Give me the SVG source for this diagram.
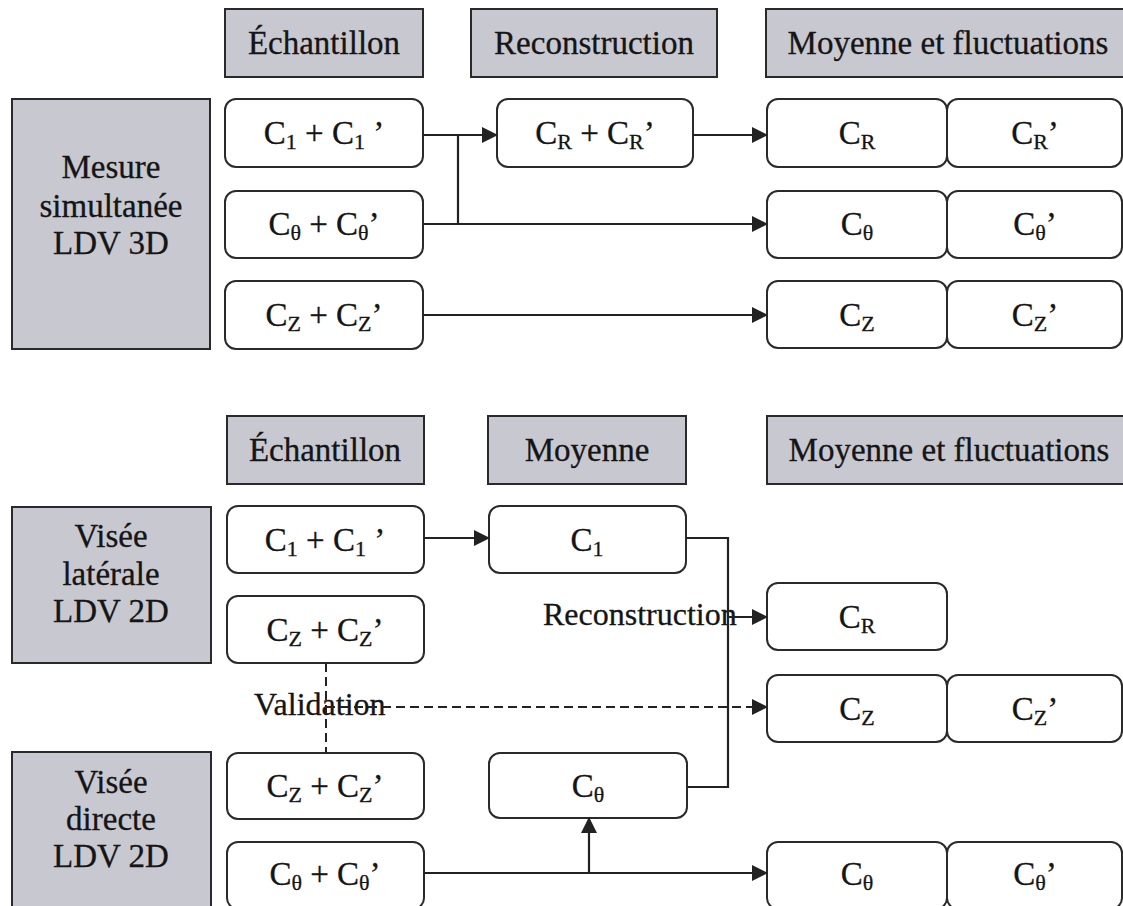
<svg xmlns="http://www.w3.org/2000/svg" width="1123" height="906" viewBox="0 0 1123 906" font-family="'Liberation Serif', 'Times New Roman', 'DejaVu Serif', serif">
<defs>
<marker id="ah" markerWidth="16" markerHeight="16" refX="15" refY="8" orient="auto" markerUnits="userSpaceOnUse">
<path d="M0,0 L16,8 L0,16 Z" fill="#222"/>
</marker>
</defs>
<style>
.hd{fill:#c8c8d0;stroke:#2a2a2a;stroke-width:2}
.bx{fill:#fff;stroke:#2a2a2a;stroke-width:2}
text{font-family:'Liberation Serif','Times New Roman','DejaVu Serif',serif;font-size:33px;fill:#151515;stroke:#151515;stroke-width:0.3;text-anchor:middle}
.s{font-size:22px}
.lb{font-size:32px}
.ln{fill:none;stroke:#222;stroke-width:2.2}
.dl{fill:none;stroke:#222;stroke-width:2;stroke-dasharray:9,5}
.lt{text-anchor:start}
</style>
<rect width="1123" height="906" fill="#fff"/>

<!-- top headers -->
<g id="h-ech1"><rect class="hd" x="225" y="9" width="198" height="68"/><text x="324" y="54">Échantillon</text></g>
<g id="h-rec1"><rect class="hd" x="471" y="9" width="246" height="68"/><text x="594" y="54">Reconstruction</text></g>
<g id="h-mf1"><rect class="hd" x="766" y="9" width="362" height="68"/><text x="948" y="54">Moyenne et fluctuations</text></g>

<g id="mesure"><rect class="hd" x="12" y="99" width="198" height="250"/>
<text x="111" y="178">Mesure</text><text x="111" y="217">simultanée</text><text x="111" y="254">LDV 3D</text></g>

<g id="t-c1"><rect class="bx" x="225" y="99" width="198" height="68" rx="11"/>
<text x="324" y="144">C<tspan class="s" dy="5">1</tspan><tspan dy="-5"> + C</tspan><tspan class="s" dy="5">1</tspan><tspan dy="-5"> ’</tspan></text></g>
<g id="t-ct"><rect class="bx" x="225" y="191" width="198" height="67" rx="11"/>
<text x="324" y="235">C<tspan class="s" dy="5">θ</tspan><tspan dy="-5"> + C</tspan><tspan class="s" dy="5">θ</tspan><tspan dy="-5">’</tspan></text></g>
<g id="t-cz"><rect class="bx" x="225" y="281" width="198" height="68" rx="11"/>
<text x="324" y="326">C<tspan class="s" dy="5">Z</tspan><tspan dy="-5"> + C</tspan><tspan class="s" dy="5">Z</tspan><tspan dy="-5">’</tspan></text></g>

<g id="t-cr"><rect class="bx" x="497" y="99" width="196" height="68" rx="11"/>
<text x="595" y="144">C<tspan class="s" dy="5">R</tspan><tspan dy="-5"> + C</tspan><tspan class="s" dy="5">R</tspan><tspan dy="-5">’</tspan></text></g>

<g id="t-mcr"><rect class="bx" x="767" y="99" width="180" height="68" rx="11"/><text x="857" y="144">C<tspan class="s" dy="5">R</tspan></text></g>
<g id="t-fcr"><rect class="bx" x="947" y="99" width="175" height="68" rx="11"/><text x="1035" y="144">C<tspan class="s" dy="5">R</tspan><tspan dy="-5">’</tspan></text></g>
<g id="t-mct"><rect class="bx" x="767" y="191" width="180" height="67" rx="11"/><text x="857" y="235">C<tspan class="s" dy="5">θ</tspan></text></g>
<g id="t-fct"><rect class="bx" x="947" y="191" width="175" height="67" rx="11"/><text x="1035" y="235">C<tspan class="s" dy="5">θ</tspan><tspan dy="-5">’</tspan></text></g>
<g id="t-mcz"><rect class="bx" x="767" y="281" width="180" height="67" rx="11"/><text x="857" y="326">C<tspan class="s" dy="5">Z</tspan></text></g>
<g id="t-fcz"><rect class="bx" x="947" y="281" width="175" height="67" rx="11"/><text x="1035" y="326">C<tspan class="s" dy="5">Z</tspan><tspan dy="-5">’</tspan></text></g>

<!-- bottom headers -->
<g id="h-ech2"><rect class="hd" x="227" y="416" width="197" height="68"/><text x="325" y="461">Échantillon</text></g>
<g id="h-moy2"><rect class="hd" x="488" y="416" width="198" height="68"/><text x="587" y="461">Moyenne</text></g>
<g id="h-mf2"><rect class="hd" x="767" y="416" width="362" height="68"/><text x="949" y="461">Moyenne et fluctuations</text></g>

<g id="visee-lat"><rect class="hd" x="12" y="507" width="199" height="156"/>
<text x="111" y="547">Visée</text><text x="111" y="585">latérale</text><text x="111" y="622">LDV 2D</text></g>
<g id="visee-dir"><rect class="hd" x="12" y="752" width="199" height="170"/>
<text x="111" y="793">Visée</text><text x="111" y="830">directe</text><text x="111" y="867">LDV 2D</text></g>

<g id="b-c1"><rect class="bx" x="227" y="506" width="197" height="67" rx="11"/>
<text x="325" y="551">C<tspan class="s" dy="5">1</tspan><tspan dy="-5"> + C</tspan><tspan class="s" dy="5">1</tspan><tspan dy="-5"> ’</tspan></text></g>
<g id="b-cz1"><rect class="bx" x="227" y="596" width="197" height="67" rx="11"/>
<text x="325" y="641">C<tspan class="s" dy="5">Z</tspan><tspan dy="-5"> + C</tspan><tspan class="s" dy="5">Z</tspan><tspan dy="-5">’</tspan></text></g>
<g id="b-cz2"><rect class="bx" x="227" y="753" width="197" height="66" rx="11"/>
<text x="325" y="797">C<tspan class="s" dy="5">Z</tspan><tspan dy="-5"> + C</tspan><tspan class="s" dy="5">Z</tspan><tspan dy="-5">’</tspan></text></g>
<g id="b-ct"><rect class="bx" x="227" y="842" width="197" height="67" rx="11"/>
<text x="325" y="885">C<tspan class="s" dy="5">θ</tspan><tspan dy="-5"> + C</tspan><tspan class="s" dy="5">θ</tspan><tspan dy="-5">’</tspan></text></g>

<g id="b-mc1"><rect class="bx" x="489" y="506" width="197" height="67" rx="11"/><text x="587" y="551">C<tspan class="s" dy="5">1</tspan></text></g>
<g id="b-mct"><rect class="bx" x="489" y="753" width="198" height="65" rx="11"/><text x="588" y="797">C<tspan class="s" dy="5">θ</tspan></text></g>

<g id="b-cr"><rect class="bx" x="767" y="583" width="180" height="67" rx="11"/><text x="857" y="628">C<tspan class="s" dy="5">R</tspan></text></g>
<g id="b-mcz"><rect class="bx" x="767" y="675" width="180" height="67" rx="11"/><text x="857" y="720">C<tspan class="s" dy="5">Z</tspan></text></g>
<g id="b-fcz"><rect class="bx" x="947" y="675" width="175" height="67" rx="11"/><text x="1035" y="720">C<tspan class="s" dy="5">Z</tspan><tspan dy="-5">’</tspan></text></g>
<g id="b-mct2"><rect class="bx" x="767" y="842" width="180" height="67" rx="11"/><text x="857" y="885">C<tspan class="s" dy="5">θ</tspan></text></g>
<g id="b-fct2"><rect class="bx" x="947" y="842" width="175" height="67" rx="11"/><text x="1035" y="885">C<tspan class="s" dy="5">θ</tspan><tspan dy="-5">’</tspan></text></g>

<g id="labels">
<text class="lt lb" x="543" y="625">Reconstruction</text>
<text class="lt lb" x="254" y="715">Validation</text>
</g>

<g id="connectors">
<path class="ln" d="M423,135 H497" marker-end="url(#ah)"/>
<path class="ln" d="M458,224 V135"/>
<path class="ln" d="M423,224 H767" marker-end="url(#ah)"/>
<path class="ln" d="M693,135 H767" marker-end="url(#ah)"/>
<path class="ln" d="M423,315 H767" marker-end="url(#ah)"/>

<path class="ln" d="M424,538 H489" marker-end="url(#ah)"/>
<path class="ln" d="M686,538 H728 V787 H687"/>
<path class="ln" d="M728,617 H767" marker-end="url(#ah)"/>
<path class="dl" d="M326,663 V753"/>
<path class="dl" d="M326,707 H767" marker-end="url(#ah)"/>
<path class="ln" d="M424,873 H767" marker-end="url(#ah)"/>
<path class="ln" d="M589,873 V818" marker-end="url(#ah)"/>
</g>
</svg>
